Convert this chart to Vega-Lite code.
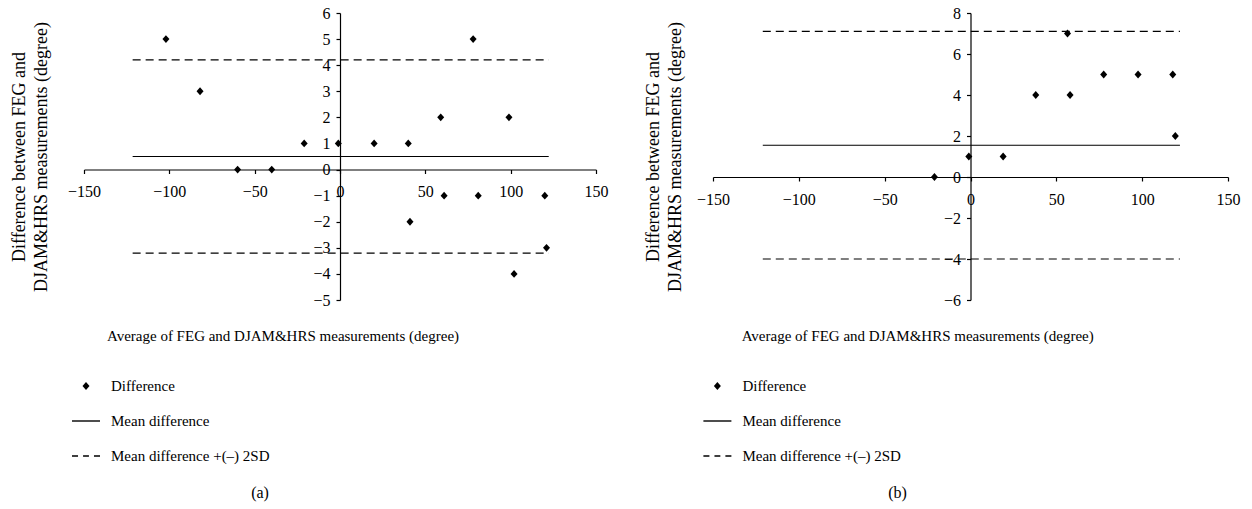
{
  "$schema": "https://vega.github.io/schema/vega-lite/v6.json",
  "background": "white",
  "padding": {"left": 10, "top": 5, "right": 5, "bottom": 5},
  "bounds": "flush",
  "spacing": 117,
  "config": {
    "view": {"stroke": null},
    "font": "Liberation Serif",
    "axis": {
      "grid": false,
      "domainColor": "black",
      "tickColor": "black",
      "labelColor": "black",
      "titleColor": "black",
      "labelFont": "Liberation Serif",
      "titleFont": "Liberation Serif",
      "labelFontSize": 16,
      "titleFontWeight": "normal",
      "domainWidth": 1.2,
      "tickWidth": 1.2,
      "tickSize": 4,
      "labelFlush": false,
      "labelOverlap": false
    },
    "legend": {
      "symbolSize": 784,
      "symbolFillColor": "black",
      "symbolOpacity": 1,
      "labelFont": "Liberation Serif",
      "labelFontSize": 15,
      "labelColor": "black",
      "labelOffset": 10,
      "rowPadding": 12,
      "padding": 0
    },
    "title": {"font": "Liberation Serif", "fontSize": 16, "fontWeight": "normal", "color": "black"}
  },
  "datasets": {
    "pointsA": [
      {"avg": -102, "diff": 5}, {"avg": -82, "diff": 3}, {"avg": -60, "diff": 0}, {"avg": -40, "diff": 0},
      {"avg": -21, "diff": 1}, {"avg": -1, "diff": 1}, {"avg": 20, "diff": 1}, {"avg": 40, "diff": 1},
      {"avg": 59, "diff": 2}, {"avg": 78, "diff": 5}, {"avg": 99, "diff": 2}, {"avg": 61, "diff": -1},
      {"avg": 81, "diff": -1}, {"avg": 120, "diff": -1}, {"avg": 41, "diff": -2}, {"avg": 121, "diff": -3},
      {"avg": 102, "diff": -4}
    ],
    "linesA": [
      {"start": -121.5, "end": 122.3, "value": 0.5, "kind": "mean"},
      {"start": -121.5, "end": 122.3, "value": 4.2, "kind": "limit"},
      {"start": -121.5, "end": 122.3, "value": -3.2, "kind": "limit"}
    ],
    "pointsB": [
      {"avg": -21, "diff": 0}, {"avg": -1, "diff": 1}, {"avg": 19, "diff": 1}, {"avg": 38, "diff": 4},
      {"avg": 56.5, "diff": 7}, {"avg": 58, "diff": 4}, {"avg": 77.6, "diff": 5}, {"avg": 97.6, "diff": 5},
      {"avg": 117.8, "diff": 5}, {"avg": 119.3, "diff": 2}
    ],
    "linesB": [
      {"start": -121, "end": 122, "value": 1.55, "kind": "mean"},
      {"start": -121, "end": 122, "value": 7.1, "kind": "limit"},
      {"start": -121, "end": 122, "value": -4.0, "kind": "limit"}
    ]
  },
  "hconcat": [
    {
      "width": 512,
      "height": 287,
      "title": {"text": "(a)", "orient": "bottom", "anchor": "middle", "dx": -80, "offset": 21},
      "layer": [
        {
          "data": {"name": "linesA"},
          "mark": {"type": "rule", "color": "black", "strokeWidth": 1.2},
          "encoding": {
            "x": {"field": "start", "type": "quantitative", "scale": {"domain": [-150, 150], "nice": false, "zero": false},
              "axis": {"values": [-150, -100, -50, 0, 50, 100, 150], "offset": -130.5, "labelPadding": 10, "labelOverlap": false,
                "title": "Average of FEG and DJAM&HRS measurements (degree)", "titleFontSize": 15,
                "titleX": 198.5, "titleY": 166, "titleBaseline": "middle", "titleAlign": "center", "titleAnchor": null}},
            "x2": {"field": "end"},
            "y": {"field": "value", "type": "quantitative", "scale": {"domain": [-5, 6], "nice": false, "zero": false},
              "axis": {"values": [-5, -4, -3, -2, -1, 0, 1, 2, 3, 4, 5, 6], "offset": -256, "labelPadding": 6, "labelOverlap": false,
                "title": ["Difference between FEG and", "DJAM&HRS measurements (degree)"], "titleFontSize": 18,
                "titleLineHeight": 22, "titleX": -320.6, "titleBaseline": "middle"}},
            "strokeDash": {"field": "kind", "type": "nominal", "scale": {"domain": ["mean", "limit"], "range": [[1, 0], [8, 5]]}, "legend": null}
          }
        },
        {
          "data": {"name": "pointsA"},
          "mark": {"type": "point", "filled": true, "color": "black", "opacity": 1, "size": 784},
          "encoding": {
            "x": {"field": "avg", "type": "quantitative",
              "axis": {"values": [-150, -100, -50, 0, 50, 100, 150], "offset": -130.5, "labelPadding": 10, "labelOverlap": false,
                "title": "Average of FEG and DJAM&HRS measurements (degree)", "titleFontSize": 15,
                "titleX": 198.5, "titleY": 166, "titleBaseline": "middle", "titleAlign": "center", "titleAnchor": null}},
            "y": {"field": "diff", "type": "quantitative",
              "axis": {"values": [-5, -4, -3, -2, -1, 0, 1, 2, 3, 4, 5, 6], "offset": -256, "labelPadding": 6, "labelOverlap": false,
                "title": ["Difference between FEG and", "DJAM&HRS measurements (degree)"], "titleFontSize": 18,
                "titleLineHeight": 22, "titleX": -320.6, "titleBaseline": "middle"}},
            "shape": {"datum": "Difference", "type": "nominal",
              "scale": {"domain": ["Difference", "Mean difference", "Mean difference +(–) 2SD"],
                "range": ["M0,-0.28L0.25,0L0,0.28L-0.25,0Z", "M-1,-0.05H1V0.05H-1Z", "M-1,-0.05H-0.57V0.05H-1ZM-0.21,-0.05H0.21V0.05H-0.21ZM0.57,-0.05H1V0.05H0.57Z"]},
              "legend": {"title": null, "orient": "none", "legendX": -13, "legendY": 358, "direction": "vertical"}}
          }
        }
      ]
    },
    {
      "width": 515,
      "height": 287,
      "title": {"text": "(b)", "orient": "bottom", "anchor": "middle", "dx": -73, "offset": 21},
      "layer": [
        {
          "data": {"name": "linesB"},
          "mark": {"type": "rule", "color": "black", "strokeWidth": 1.2},
          "encoding": {
            "x": {"field": "start", "type": "quantitative", "scale": {"domain": [-150, 150], "nice": false, "zero": false},
              "axis": {"values": [-150, -100, -50, 0, 50, 100, 150], "offset": -123, "labelPadding": 10, "labelOverlap": false,
                "title": "Average of FEG and DJAM&HRS measurements (degree)", "titleFontSize": 15,
                "titleX": 204.2, "titleY": 158.3, "titleBaseline": "middle", "titleAlign": "center", "titleAnchor": null}},
            "x2": {"field": "end"},
            "y": {"field": "value", "type": "quantitative", "scale": {"domain": [-6, 8], "nice": false, "zero": false},
              "axis": {"values": [-6, -4, -2, 0, 2, 4, 6, 8], "offset": -257.5, "labelPadding": 6, "labelOverlap": false,
                "title": ["Difference between FEG and", "DJAM&HRS measurements (degree)"], "titleFontSize": 18,
                "titleLineHeight": 22, "titleX": -317.5, "titleBaseline": "middle"}},
            "strokeDash": {"field": "kind", "type": "nominal", "scale": {"domain": ["mean", "limit"], "range": [[1, 0], [8, 5]]}, "legend": null}
          }
        },
        {
          "data": {"name": "pointsB"},
          "mark": {"type": "point", "filled": true, "color": "black", "opacity": 1, "size": 784},
          "encoding": {
            "x": {"field": "avg", "type": "quantitative",
              "axis": {"values": [-150, -100, -50, 0, 50, 100, 150], "offset": -123, "labelPadding": 10, "labelOverlap": false,
                "title": "Average of FEG and DJAM&HRS measurements (degree)", "titleFontSize": 15,
                "titleX": 204.2, "titleY": 158.3, "titleBaseline": "middle", "titleAlign": "center", "titleAnchor": null}},
            "y": {"field": "diff", "type": "quantitative",
              "axis": {"values": [-6, -4, -2, 0, 2, 4, 6, 8], "offset": -257.5, "labelPadding": 6, "labelOverlap": false,
                "title": ["Difference between FEG and", "DJAM&HRS measurements (degree)"], "titleFontSize": 18,
                "titleLineHeight": 22, "titleX": -317.5, "titleBaseline": "middle"}},
            "shape": {"datum": "Difference", "type": "nominal",
              "scale": {"domain": ["Difference", "Mean difference", "Mean difference +(–) 2SD"],
                "range": ["M0,-0.28L0.25,0L0,0.28L-0.25,0Z", "M-1,-0.05H1V0.05H-1Z", "M-1,-0.05H-0.57V0.05H-1ZM-0.21,-0.05H0.21V0.05H-0.21ZM0.57,-0.05H1V0.05H0.57Z"]},
              "legend": {"title": null, "orient": "none", "legendX": -10.6, "legendY": 358, "direction": "vertical"}}
          }
        }
      ]
    }
  ],
  "resolve": {
    "scale": {"x": "independent", "y": "independent", "shape": "independent", "strokeDash": "independent"},
    "legend": {"shape": "independent", "strokeDash": "independent"}
  }
}
